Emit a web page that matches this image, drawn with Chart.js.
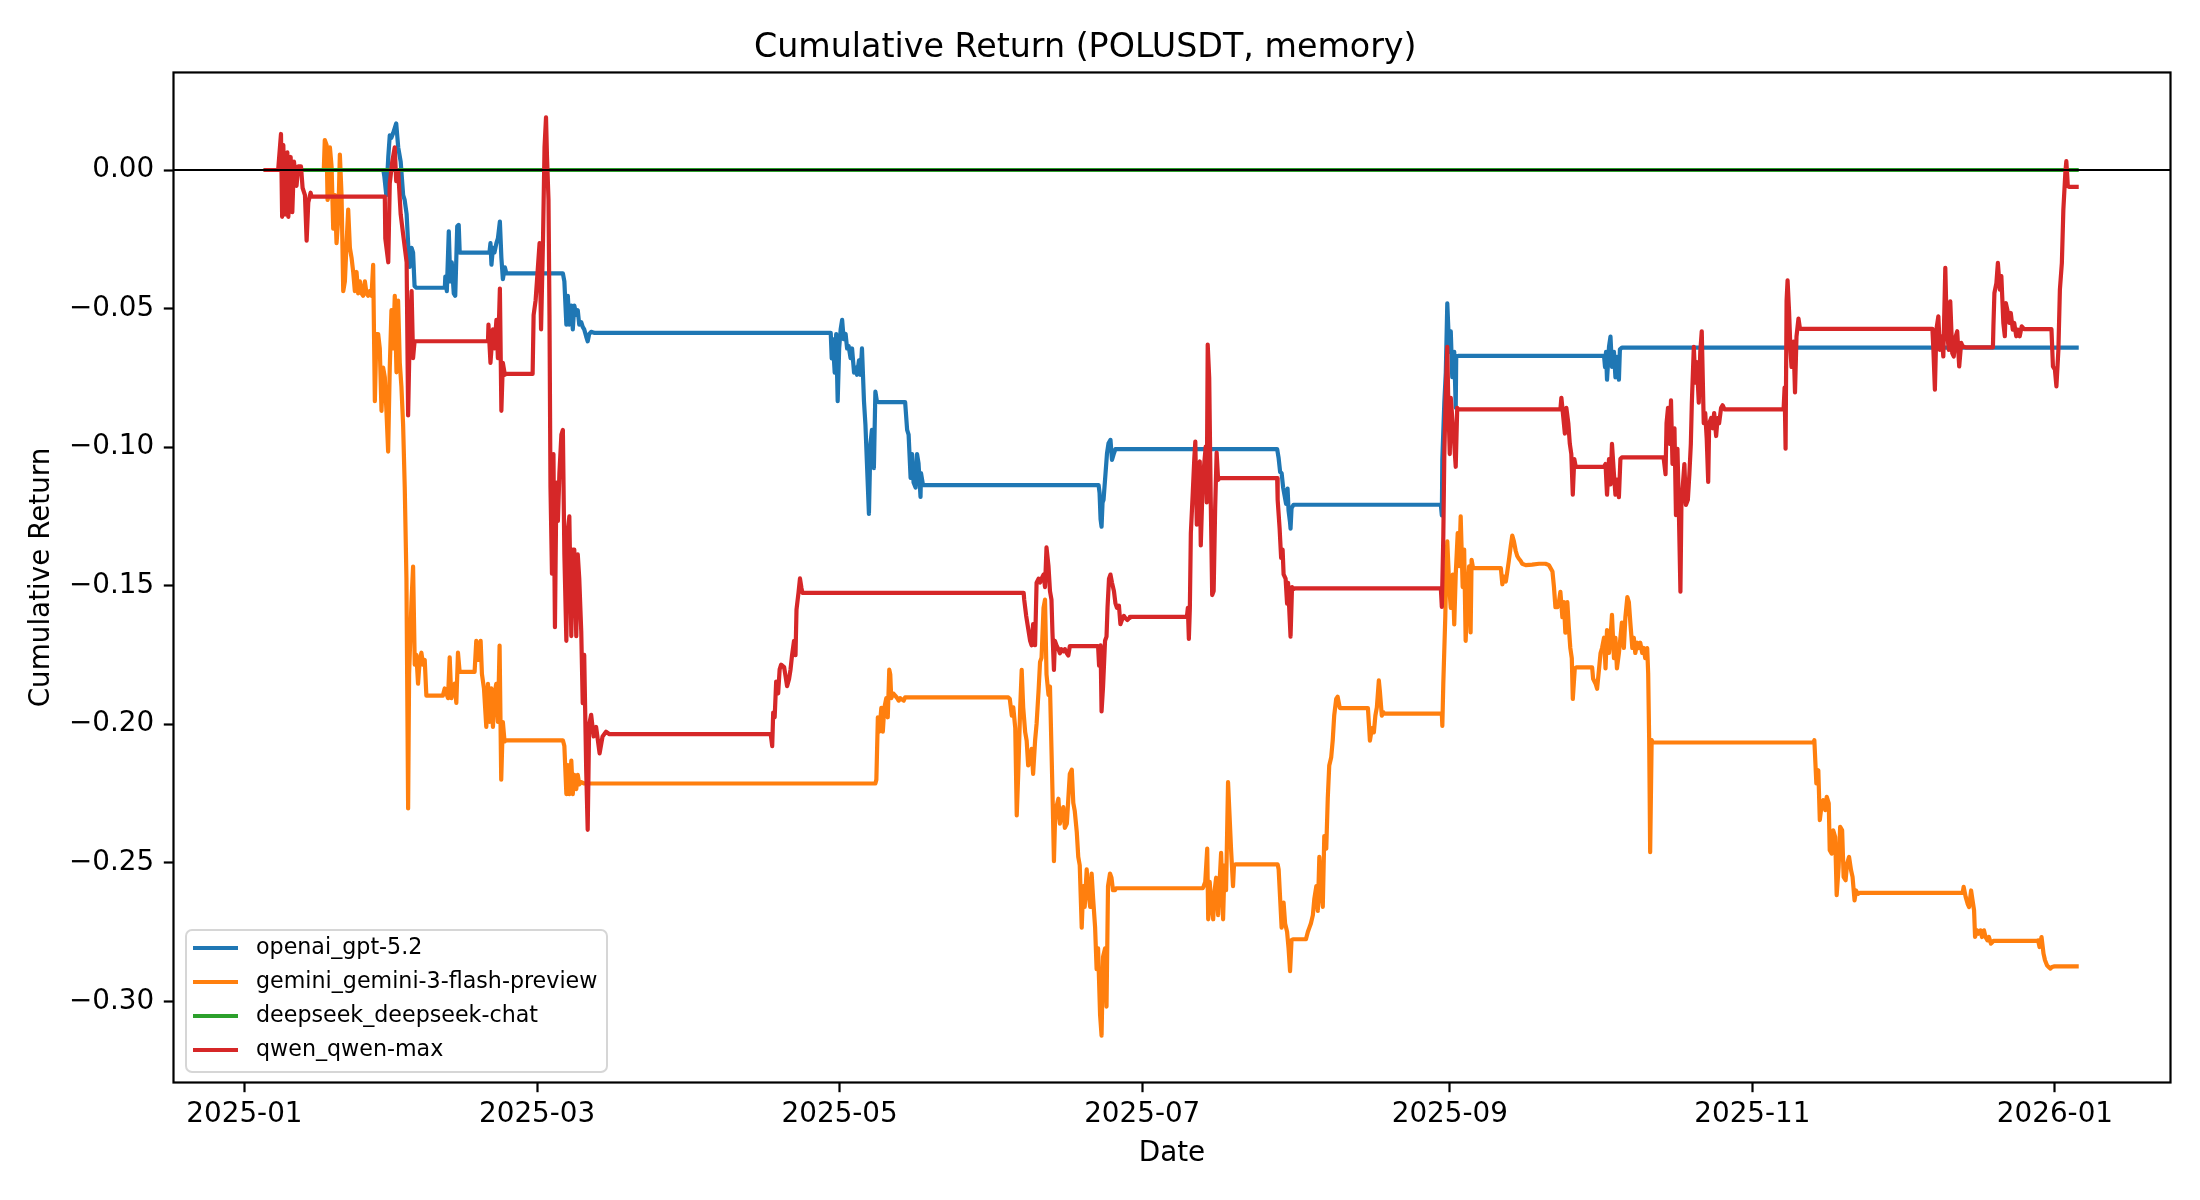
<!DOCTYPE html>
<html>
<head>
<meta charset="utf-8">
<title>Cumulative Return (POLUSDT, memory)</title>
<script src="https://cdn.jsdelivr.net/npm/chart.js@4.4.1/dist/chart.umd.min.js"></script>
<style>
  html, body { margin: 0; padding: 0; background: #fff; }
  #wrap { width: 2200px; height: 1200px; }
</style>
</head>
<body>
<div id="wrap"><canvas id="chart" width="2200" height="1200"></canvas></div>
<script>
// x values are days since 2025-01-01, y values are cumulative return

const xTickDays = [0, 59, 120, 181, 243, 304, 365];
const xTickLabels = ['2025-01', '2025-03', '2025-05', '2025-07', '2025-09', '2025-11', '2026-01'];
const yTickValues = [0, -0.05, -0.10, -0.15, -0.20, -0.25, -0.30];
const yTickLabels = ['0.00', '\u22120.05', '\u22120.10', '\u22120.15', '\u22120.20', '\u22120.25', '\u22120.30'];

const seriesNames = ['openai_gpt-5.2', 'gemini_gemini-3-flash-preview', 'deepseek_deepseek-chat', 'qwen_qwen-max'];
const seriesColors = ['#1f77b4', '#ff7f0e', '#2ca02c', '#d62728'];

const gptSeries = [
  [3.9, 0], [28.0, 0], [28.2, -0.0022], [28.6, -0.0091], [29.0, 0.0047], [29.3, 0.0125], [29.6, 0.0116],
  [30.0, 0.0134], [30.3, 0.0151], [30.6, 0.0168], [31.0, 0.0082], [31.5, 0.0030], [32.0, -0.0091],
  [32.3, -0.0108], [32.7, -0.0160], [33.0, -0.0264], [33.3, -0.0350], [33.7, -0.0281], [34.0, -0.0298],
  [34.3, -0.0419], [34.7, -0.0425], [40.4, -0.0425], [40.5, -0.0385], [40.8, -0.0437], [41.2, -0.0221],
  [41.5, -0.0402], [41.8, -0.0333], [42.2, -0.0445], [42.5, -0.0454], [42.9, -0.0203], [43.2, -0.0198],
  [43.4, -0.0298], [49.4, -0.0298], [49.6, -0.0264], [49.8, -0.0342], [50.1, -0.0281], [50.4, -0.0298],
  [50.8, -0.0264], [51.1, -0.0247], [51.5, -0.0186], [51.8, -0.0316], [52.1, -0.0394], [52.5, -0.0351],
  [52.8, -0.0373], [64.2, -0.0373], [64.5, -0.0402], [64.9, -0.0558], [65.2, -0.0454], [65.5, -0.0558],
  [65.9, -0.0489], [66.2, -0.0575], [66.5, -0.0489], [66.9, -0.0523], [67.2, -0.0506], [67.5, -0.0558],
  [67.9, -0.0549], [68.2, -0.0566], [68.5, -0.0575], [68.9, -0.0601], [69.2, -0.0618], [69.5, -0.0592],
  [69.9, -0.0584], [70.6, -0.0588], [118.2, -0.0588], [118.4, -0.0680], [118.6, -0.0610], [119.0, -0.0731],
  [119.3, -0.0592], [119.6, -0.0834], [119.9, -0.0644], [120.2, -0.0575], [120.5, -0.0541], [120.8, -0.0610],
  [121.2, -0.0592], [121.5, -0.0644], [121.8, -0.0635], [122.2, -0.0679], [122.5, -0.0644], [122.9, -0.0731],
  [123.2, -0.0713], [123.5, -0.0739], [123.9, -0.0687], [124.2, -0.0739], [124.5, -0.0644], [124.9, -0.0834],
  [125.2, -0.0921], [125.5, -0.1059], [125.9, -0.1241], [126.2, -0.0990], [126.5, -0.0938], [126.9, -0.1076],
  [127.2, -0.0800], [127.5, -0.0834], [127.9, -0.0838], [133.2, -0.0838], [133.6, -0.0938], [133.9, -0.0955],
  [134.3, -0.1111], [134.6, -0.1025], [134.9, -0.1128], [135.3, -0.1146], [135.6, -0.1025], [135.9, -0.1059],
  [136.3, -0.1180], [136.4, -0.1094], [136.8, -0.1137], [172.2, -0.1137], [172.4, -0.1166], [172.6, -0.1260],
  [172.8, -0.1287], [173.0, -0.1200], [173.2, -0.1190], [173.5, -0.1118], [173.9, -0.1022], [174.2, -0.0986],
  [174.6, -0.0974], [174.9, -0.1046], [175.3, -0.1022], [175.6, -0.1007], [208.2, -0.1007], [208.5, -0.1040],
  [208.8, -0.1090], [209.1, -0.1094], [209.4, -0.1145], [209.7, -0.1175], [210.0, -0.1205], [210.3, -0.1150],
  [210.5, -0.1230], [210.8, -0.1272], [210.9, -0.1294], [211.1, -0.1220], [211.5, -0.1208], [241.2, -0.1208],
  [241.4, -0.1246], [241.5, -0.1043], [241.9, -0.0840], [242.2, -0.0730], [242.5, -0.0481], [242.9, -0.0656],
  [243.2, -0.0582], [243.5, -0.0748], [243.9, -0.0656], [244.2, -0.0858], [244.3, -0.0674], [244.7, -0.0671],
  [274.1, -0.0671], [274.3, -0.0711], [274.5, -0.0656], [274.7, -0.0757], [275.1, -0.0638], [275.4, -0.0601],
  [275.7, -0.0711], [276.1, -0.0656], [276.4, -0.0748], [276.7, -0.0674], [277.1, -0.0757], [277.3, -0.0647],
  [277.7, -0.0641], [369.8, -0.0641]
];

const geminiSeries = [
  [3.9, 0], [16.0, 0], [16.2, 0.0108], [16.56, 0.009], [16.76, -0.0108], [17.03, -0.0091], [17.23, 0.0082],
  [17.57, 0.0013], [17.9, -0.0212], [18.24, -0.0091], [18.57, -0.0264], [18.91, -0.0178], [19.24, 0.0056],
  [19.58, -0.0091], [19.92, -0.0437], [20.25, -0.0402], [20.59, -0.0264], [20.92, -0.0143], [21.26, -0.0281],
  [21.59, -0.0316], [21.93, -0.0368], [22.26, -0.0437], [22.6, -0.0368], [22.93, -0.0445], [23.27, -0.0402],
  [23.6, -0.0445], [23.94, -0.0454], [24.28, -0.0402], [24.61, -0.0445], [24.95, -0.0454], [25.28, -0.0437],
  [25.62, -0.0454], [25.95, -0.0342], [26.29, -0.0834], [26.62, -0.0592], [26.96, -0.0592], [27.29, -0.0644],
  [27.63, -0.0869], [27.96, -0.0713], [28.3, -0.0748], [28.63, -0.0869], [28.97, -0.1016], [29.3, -0.0713],
  [29.64, -0.0506], [29.98, -0.0644], [30.31, -0.0454], [30.65, -0.0730], [30.98, -0.0471], [31.32, -0.0696],
  [31.65, -0.0782], [31.99, -0.0920], [32.32, -0.1145], [32.66, -0.1474], [33.0, -0.2304], [33.2, -0.1819],
  [33.67, -0.1560], [34.0, -0.1431], [34.34, -0.1785], [34.67, -0.1750], [35.0, -0.1854], [35.34, -0.1768],
  [35.68, -0.1742], [36.0, -0.1785], [36.35, -0.1768], [36.68, -0.1897], [40.0, -0.1897], [40.37, -0.1871],
  [41.04, -0.1906], [41.38, -0.1759], [41.71, -0.1906], [42.38, -0.1854], [42.72, -0.1923], [43.05, -0.1742],
  [43.39, -0.1811], [46.4, -0.1811], [46.74, -0.1699], [47.21, -0.1768], [47.62, -0.1699], [47.88, -0.1819],
  [48.29, -0.1871], [48.76, -0.2010], [49.1, -0.1854], [49.43, -0.1992], [49.76, -0.1871], [50.1, -0.2010],
  [50.43, -0.1889], [50.77, -0.1854], [51.1, -0.1992], [51.44, -0.1716], [51.77, -0.2200], [52.1, -0.1992],
  [52.44, -0.2062], [52.78, -0.2058], [64.2, -0.2058], [64.5, -0.2079], [64.9, -0.2252], [65.2, -0.2148],
  [65.5, -0.2252], [65.9, -0.2131], [66.2, -0.2252], [66.5, -0.2183], [66.9, -0.2234], [67.2, -0.2183],
  [67.5, -0.2217], [67.9, -0.2209], [68.5, -0.2214], [127.2, -0.2214], [127.4, -0.2200], [127.7, -0.1975],
  [128.0, -0.2027], [128.4, -0.1941], [128.7, -0.2027], [129.0, -0.1941], [129.4, -0.1906], [129.7, -0.1975],
  [130.0, -0.1803], [130.2, -0.1820], [130.4, -0.1906], [130.8, -0.1889], [131.2, -0.1897], [131.6, -0.1906],
  [131.9, -0.1915], [132.2, -0.1906], [132.9, -0.1915], [133.2, -0.1903], [154.0, -0.1903], [154.3, -0.1909],
  [154.7, -0.1969], [155.0, -0.1939], [155.4, -0.2014], [155.7, -0.2329], [156.0, -0.2179], [156.4, -0.1939],
  [156.7, -0.1804], [157.0, -0.1939], [157.4, -0.2029], [157.7, -0.2059], [158.0, -0.2149], [158.4, -0.2134],
  [158.7, -0.2089], [159.0, -0.2179], [159.4, -0.2059], [159.7, -0.1999], [160.1, -0.1879], [160.4, -0.1775],
  [160.7, -0.1760], [161.1, -0.1580], [161.4, -0.1550], [161.7, -0.1820], [162.1, -0.1894], [162.4, -0.1864],
  [162.7, -0.2089], [162.9, -0.2239], [163.2, -0.2494], [163.4, -0.2359], [163.7, -0.2299], [164.1, -0.2269],
  [164.4, -0.2359], [164.7, -0.2329], [165.1, -0.2299], [165.4, -0.2374], [165.8, -0.2359], [166.1, -0.2269],
  [166.4, -0.2179], [166.8, -0.2164], [167.1, -0.2284], [167.4, -0.2314], [167.8, -0.2389], [168.1, -0.2479],
  [168.4, -0.2509], [168.8, -0.2734], [169.1, -0.2584], [169.4, -0.2659], [169.8, -0.2524], [170.1, -0.2599],
  [170.5, -0.2659], [170.8, -0.2539], [171.1, -0.2629], [171.5, -0.2734], [171.8, -0.2884], [172.1, -0.2809],
  [172.5, -0.3049], [172.8, -0.3124], [173.1, -0.2839], [173.5, -0.2809], [173.8, -0.3019], [174.1, -0.2584],
  [174.5, -0.2539], [174.8, -0.2554], [175.1, -0.2599], [175.5, -0.2599], [175.7, -0.2592], [193.2, -0.2592],
  [193.4, -0.2584], [193.7, -0.2569], [194.1, -0.2449], [194.3, -0.2704], [194.6, -0.2569], [194.9, -0.2644],
  [195.3, -0.2704], [195.6, -0.2599], [195.9, -0.2554], [196.3, -0.2689], [196.6, -0.2569], [196.9, -0.2464],
  [197.3, -0.2704], [197.6, -0.2509], [197.9, -0.2599], [198.3, -0.2209], [198.6, -0.2329], [198.9, -0.2449],
  [199.3, -0.2584], [199.5, -0.2509], [199.8, -0.2506], [208.3, -0.2506], [208.5, -0.2524], [208.8, -0.2629],
  [209.1, -0.2734], [209.5, -0.2644], [209.8, -0.2719], [210.2, -0.2749], [210.5, -0.2809], [210.8, -0.2891],
  [211.1, -0.2779], [211.4, -0.2776], [214.0, -0.2776], [214.4, -0.2749], [214.7, -0.2734], [215.0, -0.2719],
  [215.4, -0.2689], [215.7, -0.2629], [216.1, -0.2584], [216.4, -0.2674], [216.7, -0.2479], [217.1, -0.2614],
  [217.4, -0.2659], [217.7, -0.2404], [218.1, -0.2449], [218.4, -0.2269], [218.7, -0.2149], [219.1, -0.2119],
  [219.4, -0.2059], [219.7, -0.1969], [220.1, -0.1909], [220.4, -0.1901], [220.8, -0.1939], [220.9, -0.1942],
  [226.5, -0.1942], [226.7, -0.1999], [226.9, -0.2059], [227.3, -0.2014], [227.7, -0.2029], [228.0, -0.1969],
  [228.3, -0.1939], [228.7, -0.1842], [228.9, -0.1879], [229.3, -0.1969], [229.6, -0.1957], [229.8, -0.1962],
  [241.4, -0.1962], [241.5, -0.2006], [241.7, -0.1850], [242.1, -0.1610], [242.3, -0.1430], [242.5, -0.1340],
  [242.9, -0.1505], [243.2, -0.1580], [243.6, -0.1460], [243.9, -0.1640], [244.2, -0.1460], [244.6, -0.1310],
  [244.9, -0.1430], [245.2, -0.1250], [245.6, -0.1505], [245.9, -0.1370], [246.2, -0.1699], [246.6, -0.1520],
  [246.9, -0.1430], [247.2, -0.1669], [247.4, -0.1407], [247.7, -0.1437], [253.3, -0.1437], [253.6, -0.1495],
  [253.9, -0.1467], [254.3, -0.1485], [254.6, -0.1449], [254.9, -0.1411], [255.3, -0.1356], [255.6, -0.1319],
  [255.9, -0.1338], [256.3, -0.1375], [256.6, -0.1393], [256.9, -0.1402], [257.3, -0.1411], [257.6, -0.1421],
  [258.3, -0.1426], [259.6, -0.1424], [261.0, -0.1421], [262.3, -0.1421], [263.0, -0.1426], [263.7, -0.1449],
  [264.0, -0.1504], [264.3, -0.1578], [264.7, -0.1578], [265.0, -0.1559], [265.3, -0.1522], [265.7, -0.1614],
  [266.0, -0.1559], [266.3, -0.1670], [266.7, -0.1559], [267.0, -0.1651], [267.3, -0.1725], [267.6, -0.1762],
  [267.8, -0.1909], [268.2, -0.1799], [268.5, -0.1795], [271.7, -0.1795], [271.9, -0.1836], [272.4, -0.1854],
  [272.7, -0.1872], [273.1, -0.1799], [273.4, -0.1743], [273.7, -0.1725], [274.1, -0.1688], [274.4, -0.1799],
  [274.7, -0.1660], [275.1, -0.1743], [275.4, -0.1688], [275.7, -0.1605], [276.1, -0.1762], [276.4, -0.1688],
  [276.7, -0.1799], [277.1, -0.1743], [277.4, -0.1688], [277.7, -0.1633], [278.1, -0.1725], [278.4, -0.1614],
  [278.8, -0.1541], [279.1, -0.1559], [279.4, -0.1633], [279.8, -0.1725], [280.1, -0.1688], [280.4, -0.1743],
  [280.8, -0.1706], [281.1, -0.1725], [281.4, -0.1706], [281.8, -0.1743], [282.1, -0.1725], [282.4, -0.1762],
  [282.8, -0.1725], [283.0, -0.1817], [283.2, -0.2057], [283.4, -0.2462], [283.7, -0.2057], [283.9, -0.2066],
  [316.3, -0.2066], [316.5, -0.2058], [316.9, -0.2214], [317.3, -0.2166], [317.6, -0.2346], [318.0, -0.2286],
  [318.3, -0.2274], [318.7, -0.2310], [319.0, -0.2262], [319.4, -0.2286], [319.6, -0.2455], [320.0, -0.2467],
  [320.3, -0.2383], [320.7, -0.2407], [321.0, -0.2617], [321.4, -0.2515], [321.7, -0.2370], [322.1, -0.2383],
  [322.4, -0.2551], [322.8, -0.2563], [323.1, -0.2503], [323.5, -0.2479], [323.9, -0.2527], [324.2, -0.2551],
  [324.6, -0.2636], [324.9, -0.2600], [325.3, -0.2612], [325.6, -0.2609], [346.4, -0.2609], [346.6, -0.2587],
  [347.0, -0.2623], [347.4, -0.2648], [347.7, -0.2660], [348.1, -0.2600], [348.4, -0.2636], [348.7, -0.2672],
  [348.9, -0.2768], [349.3, -0.2744], [349.6, -0.2756], [350.0, -0.2744], [350.3, -0.2768], [350.7, -0.2744],
  [351.0, -0.2768], [351.4, -0.2780], [351.7, -0.2768], [352.1, -0.2792], [352.4, -0.2786], [352.6, -0.2782],
  [361.4, -0.2782], [361.6, -0.2780], [361.9, -0.2804], [362.3, -0.2768], [362.7, -0.2828], [363.0, -0.2852],
  [363.4, -0.2870], [363.7, -0.2876], [364.1, -0.2882], [364.4, -0.2876], [364.9, -0.2874], [369.8, -0.2874]
];

const deepseekSeries = [[3.9, 0], [369.8, 0]];

const qwenSeries = [
  [3.9, 0], [6.8, 0], [7.37, 0.013], [7.6, -0.0169], [7.84, 0.009], [8.18, -0.016], [8.65, 0.0064],
  [8.85, -0.0169], [9.32, 0.0047], [9.65, -0.0152], [9.99, 0.003], [10.5, -0.0057], [10.86, 0.0013],
  [11.4, 0.0013], [11.73, -0.0065], [12.2, -0.0091], [12.54, -0.0255], [12.87, -0.0117], [13.34, -0.0082],
  [13.54, -0.0096], [28.3, -0.0096], [28.4, -0.0247], [29.0, -0.0333], [29.3, -0.0048], [29.8, 0.003],
  [30.3, 0.0082], [30.6, -0.0040], [31.0, -0.0005], [31.5, -0.0160], [32.1, -0.0247], [32.7, -0.0333],
  [33.0, -0.0886], [33.3, -0.0610], [33.7, -0.0437], [34.0, -0.0679], [34.3, -0.0618], [34.67, -0.0618],
  [49.1, -0.0618], [49.2, -0.0558], [49.6, -0.0696], [50.1, -0.0575], [50.4, -0.0644], [50.8, -0.0541],
  [51.1, -0.0679], [51.5, -0.0428], [51.8, -0.0869], [52.1, -0.0696], [52.5, -0.0739], [52.8, -0.0736],
  [58.1, -0.0736], [58.3, -0.0523], [58.7, -0.0471], [59.1, -0.0368], [59.5, -0.0264], [59.8, -0.0575],
  [60.2, -0.0247], [60.5, 0.0082], [60.8, 0.019], [61.0, 0.0047], [61.3, -0.0108], [61.5, -0.0523],
  [61.7, -0.1145], [62.0, -0.1457], [62.3, -0.1025], [62.6, -0.1650], [62.9, -0.1128], [63.2, -0.1266],
  [63.5, -0.1094], [63.9, -0.0955], [64.2, -0.0938], [64.5, -0.1387], [64.9, -0.1699], [65.2, -0.1301],
  [65.5, -0.1250], [65.9, -0.1682], [66.2, -0.1370], [66.5, -0.1370], [66.9, -0.1682], [67.2, -0.1387],
  [67.5, -0.1474], [67.9, -0.1664], [68.2, -0.1924], [68.5, -0.1750], [68.9, -0.2165], [69.2, -0.2381],
  [69.5, -0.2002], [69.9, -0.1966], [70.4, -0.2044], [70.9, -0.2010], [71.6, -0.2105], [72.2, -0.2044],
  [72.9, -0.2027], [73.6, -0.2036], [106.1, -0.2036], [106.4, -0.2079], [106.6, -0.1958], [106.9, -0.1975],
  [107.2, -0.1846], [107.6, -0.1889], [107.9, -0.1802], [108.2, -0.1785], [108.8, -0.1794], [109.1, -0.1828],
  [109.4, -0.1863], [109.8, -0.1837], [110.1, -0.1802], [110.4, -0.1751], [110.8, -0.1699], [111.1, -0.1751],
  [111.3, -0.1586], [111.7, -0.1526], [112.0, -0.1474], [112.3, -0.1509], [112.5, -0.1526], [157.1, -0.1526],
  [157.2, -0.1550], [157.6, -0.1609], [158.0, -0.1654], [158.4, -0.1699], [158.7, -0.1715], [159.0, -0.1639],
  [159.4, -0.1715], [159.7, -0.1489], [160.1, -0.1475], [160.4, -0.1489], [160.7, -0.1475], [161.1, -0.1460],
  [161.4, -0.1505], [161.7, -0.1362], [162.1, -0.1430], [162.4, -0.1520], [162.7, -0.1550], [162.9, -0.1669],
  [163.2, -0.1804], [163.4, -0.1699], [163.7, -0.1715], [164.1, -0.1729], [164.4, -0.1744], [164.7, -0.1729],
  [165.1, -0.1737], [165.4, -0.1729], [165.8, -0.1744], [166.1, -0.1752], [166.4, -0.1718], [172.1, -0.1718],
  [172.3, -0.1789], [172.6, -0.1715], [172.8, -0.1954], [173.1, -0.1864], [173.5, -0.1699], [173.8, -0.1684],
  [174.0, -0.1580], [174.3, -0.1475], [174.6, -0.1460], [174.9, -0.1489], [175.3, -0.1520], [175.6, -0.1564],
  [175.9, -0.1580], [176.3, -0.1572], [176.6, -0.1639], [176.9, -0.1624], [177.3, -0.1609], [177.6, -0.1617],
  [178.0, -0.1624], [178.4, -0.1617], [178.5, -0.1613], [190.0, -0.1613], [190.2, -0.1580], [190.4, -0.1692],
  [190.6, -0.1580], [190.8, -0.1310], [191.2, -0.1160], [191.5, -0.1040], [191.7, -0.0980], [192.0, -0.1280],
  [192.3, -0.1070], [192.6, -0.1052], [192.8, -0.1355], [193.2, -0.1120], [193.5, -0.1060], [193.8, -0.0998],
  [194.0, -0.1200], [194.2, -0.0630], [194.5, -0.0750], [194.8, -0.1180], [195.1, -0.1534], [195.4, -0.1519],
  [195.7, -0.1220], [196.0, -0.1020], [196.3, -0.1118], [196.6, -0.1112], [208.2, -0.1112], [208.3, -0.1190],
  [208.7, -0.1295], [209.0, -0.1400], [209.3, -0.1370], [209.5, -0.1459], [209.9, -0.1475], [210.2, -0.1565],
  [210.4, -0.1490], [210.7, -0.1609], [210.9, -0.1684], [211.2, -0.1505], [211.4, -0.1513], [211.5, -0.1510],
  [241.2, -0.1510], [241.4, -0.1577], [241.7, -0.1319], [241.9, -0.1025], [242.2, -0.0803], [242.5, -0.0638],
  [242.7, -0.0840], [243.0, -0.1025], [243.2, -0.0822], [243.5, -0.0895], [243.9, -0.0988], [244.2, -0.1071],
  [244.5, -0.0858], [244.7, -0.0864], [265.3, -0.0864], [265.5, -0.0822], [265.9, -0.0895], [266.2, -0.0951],
  [266.5, -0.0858], [266.9, -0.0914], [267.2, -0.0988], [267.5, -0.1025], [267.8, -0.1172], [268.1, -0.1043],
  [268.4, -0.1071], [274.1, -0.1071], [274.4, -0.1061], [274.7, -0.1172], [275.1, -0.1043], [275.4, -0.1135],
  [275.7, -0.0988], [276.1, -0.1098], [276.4, -0.1172], [276.7, -0.1117], [277.1, -0.1181], [277.4, -0.1043],
  [277.7, -0.1037], [286.1, -0.1037], [286.5, -0.1098], [286.7, -0.0914], [287.0, -0.0858], [287.3, -0.0988],
  [287.6, -0.0831], [287.9, -0.1061], [288.3, -0.0932], [288.6, -0.1246], [288.9, -0.1006], [289.1, -0.1154],
  [289.5, -0.1522], [289.7, -0.1209], [290.0, -0.1135], [290.3, -0.1061], [290.6, -0.1209], [291.0, -0.1190],
  [291.3, -0.1098], [291.6, -0.0988], [291.8, -0.0840], [292.2, -0.0638], [292.5, -0.0767], [292.8, -0.0693],
  [293.2, -0.0840], [293.5, -0.0656], [293.8, -0.0582], [294.2, -0.0914], [294.5, -0.0877], [294.8, -0.0969],
  [295.1, -0.1126], [295.3, -0.0914], [295.7, -0.0895], [296.0, -0.0932], [296.3, -0.0877], [296.7, -0.0960],
  [297.0, -0.0895], [297.3, -0.0914], [297.7, -0.0858], [298.0, -0.0849], [298.4, -0.0864], [310.3, -0.0864],
  [310.5, -0.0785], [310.7, -0.1006], [310.9, -0.0472], [311.1, -0.0398], [311.4, -0.0509], [311.7, -0.0656],
  [311.9, -0.0711], [312.3, -0.0619], [312.6, -0.0803], [312.9, -0.0601], [313.3, -0.0536], [313.6, -0.0573],
  [340.3, -0.0573], [340.5, -0.0649], [340.8, -0.0793], [341.1, -0.0576], [341.5, -0.0528], [341.8, -0.0649],
  [342.2, -0.0600], [342.5, -0.0673], [342.9, -0.0353], [343.2, -0.0576], [343.6, -0.0649], [343.9, -0.0474],
  [344.3, -0.0661], [344.6, -0.0673], [345.0, -0.0600], [345.3, -0.0582], [345.7, -0.0709], [346.1, -0.0624],
  [346.4, -0.0636], [347.0, -0.0640], [352.5, -0.0640], [352.6, -0.0564], [352.8, -0.0444], [353.2, -0.0408],
  [353.5, -0.0335], [353.9, -0.0432], [354.2, -0.0383], [354.6, -0.0552], [354.9, -0.0600], [355.1, -0.0480],
  [355.4, -0.0504], [355.8, -0.0552], [356.1, -0.0516], [356.5, -0.0576], [356.8, -0.0552], [357.2, -0.0600],
  [357.5, -0.0576], [357.9, -0.0600], [358.3, -0.0564], [358.8, -0.0574], [364.3, -0.0574], [364.6, -0.0709],
  [365.0, -0.0721], [365.3, -0.0781], [365.7, -0.0649], [366.0, -0.0432], [366.4, -0.0335], [366.7, -0.0143],
  [367.1, -0.0010], [367.3, 0.0032], [367.6, -0.0058], [367.9, -0.0061], [369.8, -0.0061]
];

// axis limits (matplotlib-style 5% margins around the data)
const xMin = -14.3, xMax = 388.3;
const yMin = -0.3293, yMax = 0.0352;

const allSeries = [gptSeries, geminiSeries, deepseekSeries, qwenSeries];

function toPoints(pairs) {
  return pairs.map(p => ({ x: p[0], y: p[1] }));
}

const datasets = allSeries.map((s, i) => ({
  label: seriesNames[i],
  data: toPoints(s),
  borderColor: seriesColors[i],
  backgroundColor: seriesColors[i],
  borderWidth: 4.2,
  pointRadius: 0,
  tension: 0,
  borderJoinStyle: 'round',
  order: 5 - i
}));

// the thin black zero line on top
datasets.push({
  label: '_zero',
  data: [{ x: xMin, y: 0 }, { x: xMax, y: 0 }],
  borderColor: '#000',
  borderWidth: 2,
  pointRadius: 0,
  order: 0
});

// frame around the plot area
const frame = {
  id: 'frame',
  afterDatasetsDraw(chart) {
    const { ctx, chartArea: a } = chart;
    ctx.save();
    ctx.strokeStyle = '#000';
    ctx.lineWidth = 2.2;
    ctx.strokeRect(a.left, a.top, a.right - a.left, a.bottom - a.top);
    ctx.restore();
  }
};

// legend box inside the lower-left corner
const insideLegend = {
  id: 'insideLegend',
  afterDraw(chart) {
    const ctx = chart.ctx;
    const items = chart.data.datasets.filter(d => !d.label.startsWith('_'));
    ctx.save();
    ctx.beginPath();
    ctx.roundRect(186, 930, 421, 142, 6);
    ctx.fillStyle = 'rgba(255,255,255,0.8)';
    ctx.fill();
    ctx.strokeStyle = 'rgba(204,204,204,0.8)';
    ctx.lineWidth = 2;
    ctx.stroke();
    ctx.font = '22.2px "DejaVu Sans"';
    ctx.textBaseline = 'middle';
    ctx.textAlign = 'left';
    items.forEach((d, i) => {
      const cy = 948 + i * 34;
      ctx.strokeStyle = d.borderColor;
      ctx.lineWidth = 4.2;
      ctx.beginPath();
      ctx.moveTo(193, cy);
      ctx.lineTo(238, cy);
      ctx.stroke();
      ctx.fillStyle = '#000';
      ctx.fillText(d.label, 256, cy);
    });
    ctx.restore();
  }
};

Chart.defaults.font.family = '"DejaVu Sans"';
Chart.defaults.color = '#000';

const ctx = document.getElementById('chart').getContext('2d');
const chart = new Chart(ctx, {
  type: 'line',
  data: { datasets },
  options: {
    responsive: false,
    animation: false,
    devicePixelRatio: 1,
    layout: { padding: { left: 0, right: 29.5, top: 0, bottom: 0 } },
    plugins: {
      legend: { display: false },
      tooltip: { enabled: false },
      title: {
        display: true,
        text: 'Cumulative Return (POLUSDT, memory)',
        color: '#000',
        font: { size: 33.3, weight: 'normal' },
        padding: { top: 28, bottom: 4.5 }
      }
    },
    scales: {
      x: {
        type: 'linear',
        min: xMin,
        max: xMax,
        afterFit: s => { s.height = 117.5; },
        afterBuildTicks: s => { s.ticks = xTickDays.map(v => ({ value: v })); },
        ticks: {
          autoSkip: false,
          maxRotation: 0,
          padding: 6,
          font: { size: 27.8 },
          color: '#000',
          callback: v => xTickLabels[xTickDays.indexOf(v)]
        },
        grid: { display: true, drawOnChartArea: false, drawTicks: true, tickLength: 9.7, tickWidth: 2.2, tickColor: '#000' },
        border: { display: false },
        title: { display: true, text: 'Date', color: '#000', font: { size: 27.8 }, padding: { top: 0, bottom: 30 } }
      },
      y: {
        min: yMin,
        max: yMax,
        afterFit: s => { s.width = 173.5; },
        afterBuildTicks: s => { s.ticks = yTickValues.map(v => ({ value: v })); },
        ticks: {
          padding: 9.7,
          font: { size: 27.8 },
          color: '#000',
          callback: v => yTickLabels[yTickValues.findIndex(t => Math.abs(t - v) < 1e-9)]
        },
        grid: { display: true, drawOnChartArea: false, drawTicks: true, tickLength: 9.7, tickWidth: 2.2, tickColor: '#000' },
        border: { display: false },
        title: { display: true, text: 'Cumulative Return', color: '#000', font: { size: 27.8 }, padding: { top: 25, bottom: 0 } }
      }
    }
  },
  plugins: [frame, insideLegend]
});
</script>
</body>
</html>
